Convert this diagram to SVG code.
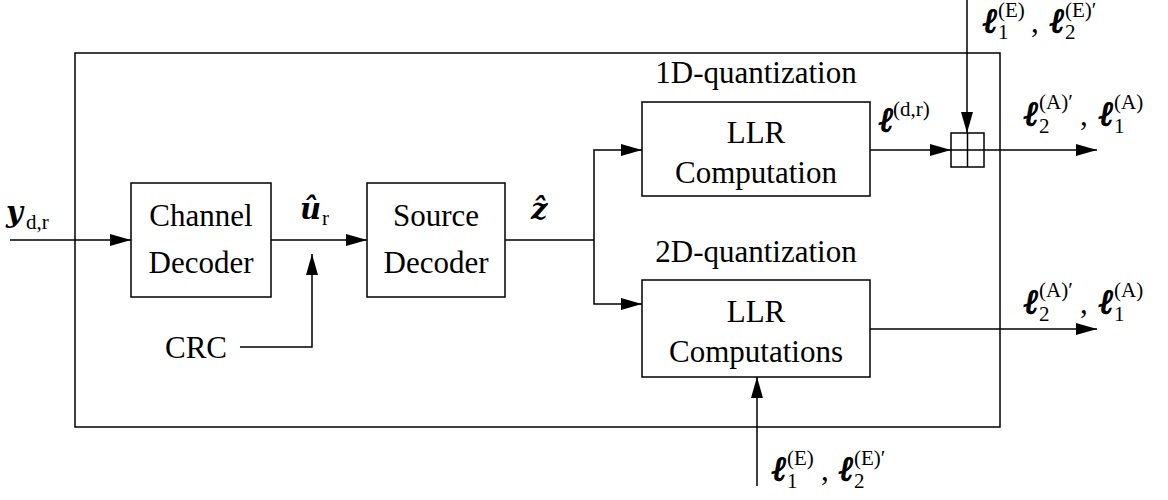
<svg xmlns="http://www.w3.org/2000/svg" width="1168" height="500" viewBox="0 0 1168 500">
<defs>
<marker id="ah" markerUnits="userSpaceOnUse" markerWidth="22" markerHeight="14" refX="21" refY="7" orient="auto">
<path d="M0,1 L21,7 L0,13 Z" fill="#000"/>
</marker>
<style>
.box{fill:#fff;stroke:#000;stroke-width:1.5}
.frame{fill:none;stroke:#000;stroke-width:1.5}
.ln{fill:none;stroke:#000;stroke-width:1.5}
.arr{fill:none;stroke:#000;stroke-width:1.5;marker-end:url(#ah)}
.t{font-family:"Liberation Serif","DejaVu Serif",serif;font-size:31px;fill:#000}
.m{font-family:"DejaVu Serif",serif;font-size:29px;font-weight:bold;font-style:italic;fill:#000}
.ell{font-family:"DejaVu Serif",serif;font-size:34px;font-weight:bold;font-style:italic;fill:#000;stroke:#000;stroke-width:1.3}
.s{font-family:"Liberation Serif","DejaVu Serif",serif;font-size:21px;fill:#000}
</style>
</defs>
<rect id="frame" class="frame" x="75" y="53" width="925" height="374"/>
<g id="connectors">
<line class="arr" x1="10" y1="240" x2="131" y2="240"/>
<line class="arr" x1="271" y1="240" x2="367" y2="240"/>
<polyline class="arr" points="240,347 312,347 312,254"/>
<polyline class="ln" points="505,240 594,240"/>
<polyline class="arr" points="594,240 594,150 642,150"/>
<polyline class="arr" points="594,240 594,304 642,304"/>
<line class="arr" x1="870" y1="150" x2="951" y2="150"/>
<line class="arr" x1="967" y1="0" x2="967" y2="133"/>
<line class="arr" x1="984" y1="150" x2="1097" y2="150"/>
<line class="arr" x1="870" y1="329" x2="1097" y2="329"/>
<line class="arr" x1="757" y1="486" x2="757" y2="377"/>
</g>
<g id="channel-decoder">
<rect class="box" x="131" y="183" width="140" height="114"/>
<text class="t" x="201" y="226" text-anchor="middle">Channel</text>
<text class="t" x="201" y="273" text-anchor="middle">Decoder</text>
</g>
<g id="source-decoder">
<rect class="box" x="367" y="183" width="138" height="114"/>
<text class="t" x="436" y="226" text-anchor="middle">Source</text>
<text class="t" x="436" y="273" text-anchor="middle">Decoder</text>
</g>
<g id="llr-1d">
<rect class="box" x="642" y="102" width="228" height="94"/>
<text class="t" x="756" y="143" text-anchor="middle">LLR</text>
<text class="t" x="756" y="183" text-anchor="middle">Computation</text>
<text class="t" x="756" y="83" text-anchor="middle">1D-quantization</text>
</g>
<g id="llr-2d">
<rect class="box" x="642" y="280" width="228" height="97"/>
<text class="t" x="756" y="322" text-anchor="middle">LLR</text>
<text class="t" x="756" y="362" text-anchor="middle">Computations</text>
<text class="t" x="756" y="262" text-anchor="middle">2D-quantization</text>
</g>
<g id="combiner">
<rect class="box" x="951" y="133" width="33" height="34"/>
<line class="ln" x1="967.5" y1="133" x2="967.5" y2="167"/>
<line class="ln" x1="951" y1="150" x2="984" y2="150"/>
</g>
<g id="crc">
<text class="t" x="165" y="358">CRC</text>
</g>
<g id="labels">
<text class="m" x="6" y="222">y</text><text class="s" x="26" y="229">d,r</text>
<text class="m" x="300" y="219">û</text><text class="s" x="322" y="225">r</text>
<text class="m" x="531" y="219">ẑ</text>
<text class="ell" x="879" y="131">ℓ</text><text class="s" x="893" y="116">(d,r)</text>
<text class="ell" x="983" y="32">ℓ</text><text class="s" x="998" y="17">(E)</text><text class="s" x="998" y="39">1</text><text class="t" x="1031" y="32">,</text>
<text class="ell" x="1050" y="32">ℓ</text><text class="s" x="1065" y="17">(E)′</text><text class="s" x="1065" y="39">2</text>
<text class="ell" x="1024" y="125">ℓ</text><text class="s" x="1039" y="109">(A)′</text><text class="s" x="1039" y="133">2</text><text class="t" x="1080" y="125">,</text>
<text class="ell" x="1099" y="125">ℓ</text><text class="s" x="1114" y="109">(A)</text><text class="s" x="1114" y="133">1</text>
<text class="ell" x="1024" y="313">ℓ</text><text class="s" x="1039" y="297">(A)′</text><text class="s" x="1039" y="321">2</text><text class="t" x="1080" y="313">,</text>
<text class="ell" x="1099" y="313">ℓ</text><text class="s" x="1114" y="297">(A)</text><text class="s" x="1114" y="321">1</text>
<text class="ell" x="772" y="480">ℓ</text><text class="s" x="787" y="465">(E)</text><text class="s" x="787" y="488">1</text><text class="t" x="821" y="480">,</text>
<text class="ell" x="839" y="480">ℓ</text><text class="s" x="854" y="465">(E)′</text><text class="s" x="854" y="488">2</text>
</g>
</svg>
